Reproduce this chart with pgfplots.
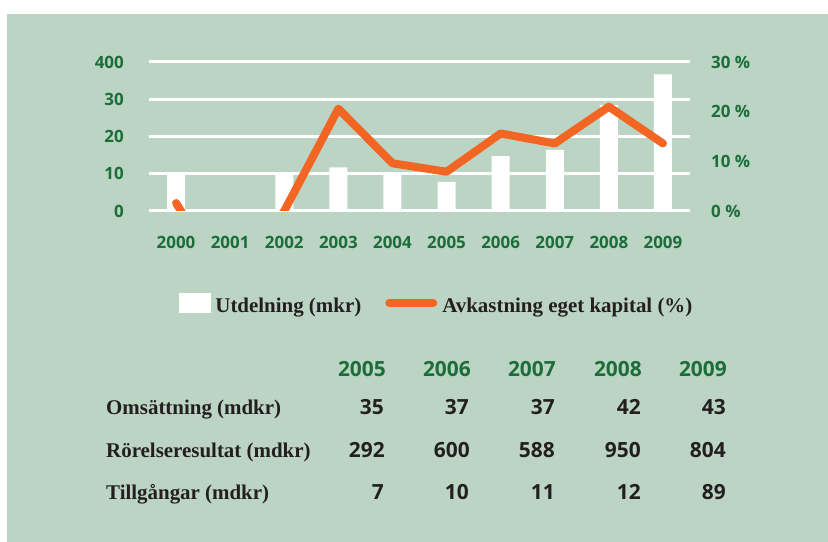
\documentclass[border=0pt]{standalone}
\usepackage{pgfplots}
\pgfplotsset{compat=1.18}
\usepackage{fontspec}
\setmainfont{Liberation Serif}
\newfontfamily\sansfam{Open Sans}

\definecolor{bggreen}{HTML}{BCD4C3}
\definecolor{tickgreen}{HTML}{1B6E3A}
\definecolor{lineorange}{HTML}{F26522}
\definecolor{txtdark}{HTML}{231F20}

\newcommand\tickfont{\sansfam\bfseries\fontsize{17}{20}\selectfont}
\newcommand\numfont{\sansfam\bfseries\fontsize{21}{24}\selectfont}
\newcommand\labfont{\bfseries\fontsize{21}{24}\selectfont}

\begin{document}
\begin{tikzpicture}[x=1bp, y=1bp]
\fill[white] (0,0) rectangle (828,542);
\fill[bggreen] (7,0) rectangle (828,528);

% dividend bars, left axis
\begin{axis}[
    at={(149bp,331bp)}, anchor=south west,
    scale only axis, width=541bp, height=149bp,
    xmin=-0.5, xmax=9.5, ymin=0, ymax=40,
    axis line style={draw=none}, major tick style={draw=none},
    ymajorgrids, major grid style={white, line width=3bp},
    xtick={0,...,9},
    xticklabels={2000,2001,2002,2003,2004,2005,2006,2007,2008,2009},
    ytick={0,10,20,30,40},
    yticklabels={0,10,20,30,400},
    ticklabel style={font=\tickfont, text=tickgreen},
    xticklabel style={inner sep=0pt, yshift=-25bp},
    yticklabel style={inner sep=0pt, xshift=-25bp},
]
\addplot[ybar, bar width=18bp, fill=white, draw=none] coordinates {
    (0,10) (1,0) (2,10) (3,11.7) (4,10) (5,7.8) (6,14.7) (7,16.4) (8,28.4) (9,36.7)
};
\end{axis}

% return on equity, right axis
\begin{axis}[
    at={(149bp,331bp)}, anchor=south west,
    scale only axis, width=541bp, height=149bp,
    xmin=-0.5, xmax=9.5, ymin=0, ymax=30,
    axis line style={draw=none}, major tick style={draw=none},
    xtick=\empty,
    ytick={0,10,20,30},
    yticklabels={0 \%,10 \%,20 \%,30 \%},
    yticklabel pos=right,
    ticklabel style={font=\tickfont, text=tickgreen},
    yticklabel style={inner sep=0pt, xshift=21bp},
    legend columns=2,
    legend style={at={(0.0555,-0.619)}, anchor=west, draw=none, fill=none,
        inner sep=0pt, outer sep=0pt,
        nodes={inner sep=0pt, text=txtdark, font=\labfont},
        column sep=5bp,
        /tikz/every even column/.append style={column sep=24bp}},
]
\addlegendimage{legend image code/.code={\fill[white] (0bp,-6.6bp) rectangle (31bp,12.4bp);}}
\addlegendentry{Utdelning (mkr)}
\addplot[lineorange, line width=8bp, line cap=round, line join=round,
    legend image code/.code={\draw[lineorange, line width=8bp, line cap=round] (4bp,2.4bp) -- (48bp,2.4bp);}]
    coordinates {
    (0,1.6) (1,-16) (2,0) (3,20.6) (4,9.6) (5,7.9) (6,15.6) (7,13.6) (8,21) (9,13.6)
};
\addlegendentry{Avkastning eget kapital (\%)}
\end{axis}

% key figures table
\foreach \x/\yr in {386/2005,471/2006,556/2007,642/2008,727/2009}
    \node[anchor=base east, inner sep=0pt, text=tickgreen, font=\numfont] at (\x,165) {\yr};
\node[anchor=base west, inner sep=0pt, text=txtdark, font=\labfont] at (106,127) {Omsättning (mdkr)};
\node[anchor=base west, inner sep=0pt, text=txtdark, font=\labfont] at (106,84) {Rörelseresultat (mdkr)};
\node[anchor=base west, inner sep=0pt, text=txtdark, font=\labfont] at (106,42) {Tillgångar (mdkr)};
\foreach \x/\v in {384/35,469/37,555/37,641/42,726/43}
    \node[anchor=base east, inner sep=0pt, text=txtdark, font=\numfont] at (\x,127) {\v};
\foreach \x/\v in {385/292,470/600,555/588,641/950,726/804}
    \node[anchor=base east, inner sep=0pt, text=txtdark, font=\numfont] at (\x,84) {\v};
\foreach \x/\v in {384/7,469/10,555/11,641/12,726/89}
    \node[anchor=base east, inner sep=0pt, text=txtdark, font=\numfont] at (\x,42) {\v};

\pgfresetboundingbox
\path[use as bounding box] (0,0) rectangle (828,542);
\end{tikzpicture}
\end{document}
